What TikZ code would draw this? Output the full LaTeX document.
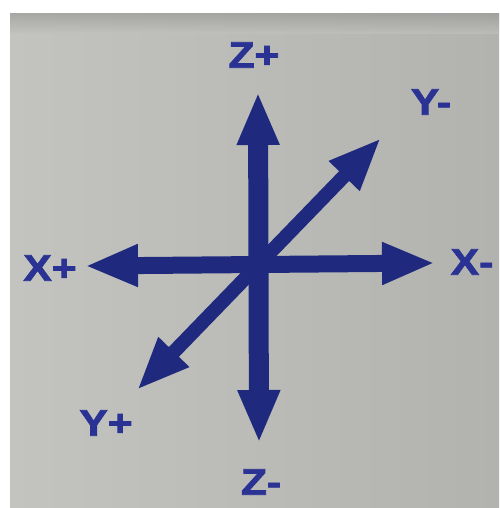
\documentclass[tikz,border=0pt]{standalone}
\usepackage{fontspec}
\setmainfont{Liberation Sans}
\newfontfamily\heavyfont{Liberation Sans Bold}[FakeBold=2]
\usetikzlibrary{arrows.meta}
\definecolor{signbg}{HTML}{C3C4BF}
\definecolor{signbgr}{HTML}{B2B3AF}
\definecolor{arrowblue}{HTML}{1F2A7E}
\definecolor{labelblue}{HTML}{2A3293}
\tikzset{
  axisarrow/.style={draw=arrowblue, {Triangle[length=53pt,width=39pt]}-{Triangle[length=53pt,width=39pt]}},
  axislabel/.style={text=labelblue, font=\heavyfont\fontsize{37}{40}\selectfont, inner sep=0pt, xscale=1.15},
}
\begin{document}
\begin{tikzpicture}[x=1pt,y=-1pt]
\useasboundingbox (0,0) rectangle (499,508);
\fill[white] (0,0) rectangle (499,508);
\shade[left color=signbg, right color=signbgr] (10,14) rectangle (499,508);
\shade[top color=signbgr!85!black, bottom color=signbg, opacity=0.6] (10,14) rectangle (499,34);
% endpoints
\coordinate (zt) at (258,92);
\coordinate (zb) at (259,443);
\coordinate (xl) at (85,266);
\coordinate (xr) at (435,263);
\coordinate (yu) at (381,138);
\coordinate (yl) at (137,390);
% arrows
\draw[axisarrow, line width=20pt] (zt) -- (zb);
\draw[axisarrow, line width=17pt] (xl) -- (xr);
\draw[axisarrow, line width=14pt] (yl) -- (yu);
% labels
\node[axislabel] (lzp) at (254,55) {Z+};
\node[axislabel] (lym) at (431,102) {Y-};
\node[axislabel] (lxp) at (50,268) {X+};
\node[axislabel] (lxm) at (472,262) {X-};
\node[axislabel] (lyp) at (106,423) {Y+};
\node[axislabel] (lzm) at (261,482) {Z-};
\end{tikzpicture}
\end{document}
